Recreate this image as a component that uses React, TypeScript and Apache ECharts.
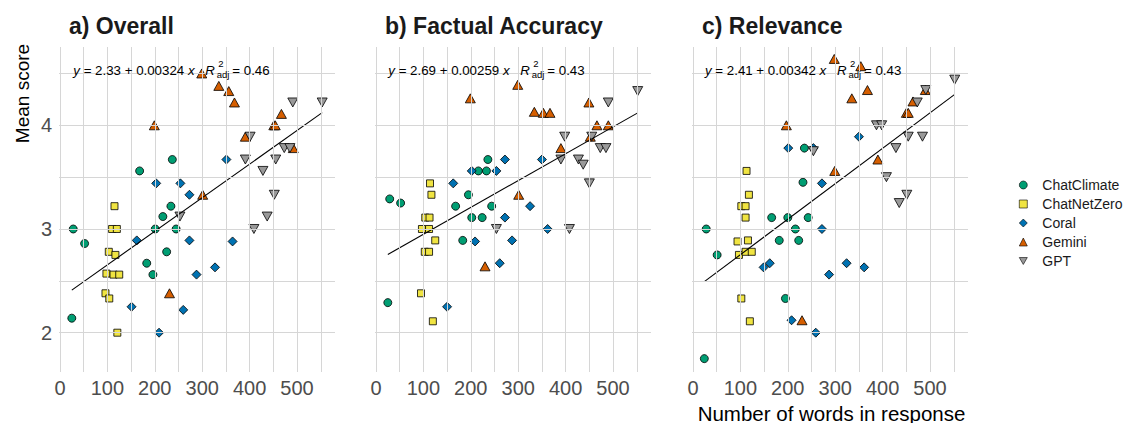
import React, { useEffect, useRef } from "react";
import * as echarts from "echarts";

// ---------- data ----------
const modelNames = ["ChatClimate", "ChatNetZero", "Coral", "Gemini", "GPT"];
const modelColors = ["#009E73", "#F0E442", "#0072B2", "#D55E00", "#999999"];
const panelTitles = ["a) Overall", "b) Factual Accuracy", "c) Relevance"];

// [number of words, mean score]
const overallChatClimate = [[25, 2.14], [28, 3.0], [52, 2.86], [168, 3.56], [183, 2.67], [196, 2.56], [201, 3.0], [217, 3.12], [225, 2.78], [234, 3.22], [237, 3.67], [245, 3.0]];
const overallChatNetZero = [[96, 2.38], [98, 2.57], [103, 2.78], [104, 2.33], [110, 3.0], [113, 2.56], [115, 3.22], [117, 2.75], [120, 3.0], [121, 2.0], [125, 2.56]];
const overallCoral = [[151, 2.25], [162, 2.89], [203, 3.44], [209, 2.0], [254, 3.44], [260, 2.22], [273, 3.33], [273, 2.89], [288, 2.56], [327, 2.63], [351, 3.67], [364, 2.88]];
const overallGemini = [[199, 4.0], [231, 2.38], [299, 4.5], [301, 3.33], [335, 4.38], [356, 4.33], [368, 4.22], [391, 3.89], [451, 4.0], [454, 4.0], [467, 4.11], [492, 3.78]];
const overallGPT = [[253, 3.12], [391, 3.67], [401, 3.89], [409, 3.0], [428, 3.56], [437, 3.12], [452, 3.33], [455, 3.67], [473, 3.78], [485, 3.78], [491, 4.22], [553, 4.22]];

const factualChatClimate = [[25, 2.29], [29, 3.29], [52, 3.25], [168, 3.22], [183, 2.89], [195, 3.33], [202, 3.11], [216, 3.56], [224, 3.11], [233, 3.56], [236, 3.67], [244, 3.22]];
const factualChatNetZero = [[95, 2.38], [97, 3.0], [103, 2.78], [104, 3.11], [112, 2.78], [112, 3.0], [113, 3.11], [114, 3.44], [117, 3.33], [120, 2.11], [125, 2.89]];
const factualCoral = [[150, 2.25], [163, 3.44], [202, 3.56], [209, 2.88], [254, 3.56], [261, 2.67], [272, 3.67], [272, 3.11], [287, 2.89], [325, 3.22], [350, 3.67], [362, 3.0]];
const factualGemini = [[199, 4.26], [230, 2.64], [299, 4.39], [301, 3.33], [334, 4.13], [353, 4.12], [367, 4.12], [390, 3.78], [449, 4.22], [452, 3.89], [466, 4.0], [490, 4.0]];
const factualGPT = [[254, 3.0], [390, 3.67], [398, 3.89], [408, 3.0], [427, 3.67], [437, 3.62], [450, 3.44], [455, 3.89], [473, 3.78], [485, 3.78], [490, 4.22], [552, 4.33]];

const relevanceChatClimate = [[24, 1.75], [28, 3.0], [51, 2.75], [166, 3.11], [182, 2.89], [195, 2.33], [200, 3.11], [216, 3.0], [223, 2.89], [232, 3.45], [235, 3.78], [243, 3.11]];
const relevanceChatNetZero = [[94, 2.88], [97, 2.75], [102, 3.22], [102, 2.33], [111, 3.22], [111, 3.11], [111, 2.78], [113, 3.56], [116, 2.89], [118, 3.33], [120, 2.11], [124, 2.78]];
const relevanceCoral = [[149, 2.63], [162, 2.67], [201, 3.78], [208, 2.12], [254, 3.78], [259, 2.0], [272, 3.44], [272, 3.0], [287, 2.56], [324, 2.67], [350, 3.89], [361, 2.63]];
const relevanceGemini = [[197, 4.0], [230, 2.12], [298, 4.64], [299, 3.56], [335, 4.26], [354, 4.57], [368, 4.34], [390, 3.67], [450, 4.12], [454, 4.12], [464, 4.23], [490, 4.34]];
const relevanceGPT = [[254, 3.75], [387, 4.0], [398, 4.0], [408, 3.5], [428, 3.78], [435, 3.25], [451, 3.33], [454, 3.89], [473, 4.22], [484, 3.89], [491, 4.34], [552, 4.44]];

const panelData = [
  [overallChatClimate, overallChatNetZero, overallCoral, overallGemini, overallGPT],
  [factualChatClimate, factualChatNetZero, factualCoral, factualGemini, factualGPT],
  [relevanceChatClimate, relevanceChatNetZero, relevanceCoral, relevanceGemini, relevanceGPT],
];

const fitIntercepts = [2.33, 2.69, 2.41];
const fitSlopes = [0.00324, 0.00259, 0.00342];
const fitInterceptLabels = ["2.33", "2.69", "2.41"];
const fitSlopeLabels = ["0.00324", "0.00259", "0.00342"];
const fitR2Labels = ["0.46", "0.43", "0.43"];
const fitXStart = [25, 25, 24];
const fitXEnd = [553, 552, 552];

const xTickLabels = [0, 100, 200, 300, 400, 500];
const yTickLabels = [2, 3, 4];
const xGridValues = [0, 50, 100, 150, 200, 250, 300, 350, 400, 450, 500, 550];
const yGridValues = [2, 2.5, 3, 3.5, 4, 4.5];

// ---------- layout ----------
const FONT = '"Liberation Sans", Arial, Helvetica, sans-serif';
const gridLefts = [59, 375, 692];
const gridWidth = 276;
const gridTop = 47;
const gridHeight = 325;
const annStart = [73.3, 388.3, 705];

const symbols = [
  "circle",
  "rect",
  "diamond",
  "triangle",
  "path://M0,0L10,0L5,8.66Z",
];
const symbolSizes: any[] = [8, 7, 9, [10, 9], [10, 9]];

export default function App() {
  const ref = useRef<HTMLDivElement>(null);

  useEffect(() => {
    if (!ref.current) return;
    const chart = echarts.init(ref.current, undefined, { renderer: "svg" });

    const grids = gridLefts.map((l) => ({
      left: l,
      top: gridTop,
      width: gridWidth,
      height: gridHeight,
      containLabel: false,
    }));

    const xAxes = gridLefts.map((_, i) => ({
      type: "value",
      gridIndex: i,
      min: -2,
      max: 580,
      axisLine: { show: false },
      axisTick: { show: false },
      splitLine: { show: false },
      axisLabel: {
        customValues: xTickLabels,
        fontSize: 20,
        color: "#4D4D4D",
        fontFamily: FONT,
        margin: 6,
      },
    }));

    const yAxes = gridLefts.map((_, i) => ({
      type: "value",
      gridIndex: i,
      min: 1.621,
      max: 4.755,
      axisLine: { show: false },
      axisTick: { show: false },
      splitLine: { show: false },
      axisLabel: {
        show: i === 0,
        customValues: yTickLabels,
        fontSize: 20,
        color: "#4D4D4D",
        fontFamily: FONT,
        margin: 7,
      },
    }));

    const series: any[] = [];
    panelData.forEach((groups, p) => {
      series.push({
        type: "line",
        xAxisIndex: p,
        yAxisIndex: p,
        data: [],
        silent: true,
        z: 0,
        markLine: {
          silent: true,
          symbol: ["none", "none"],
          label: { show: false },
          animation: false,
          lineStyle: { color: "#D6D6D6", width: 1, type: "solid" },
          data: [
            ...xGridValues.map((v) => ({ xAxis: v })),
            ...yGridValues.map((v) => ({ yAxis: v })),
          ],
        },
      });
      groups.forEach((pts, m) => {
        series.push({
          type: "scatter",
          name: modelNames[m],
          xAxisIndex: p,
          yAxisIndex: p,
          data: pts,
          symbol: symbols[m],
          symbolSize: symbolSizes[m],
          itemStyle: {
            color: modelColors[m],
            borderColor: "#000",
            borderWidth: 0.8,
            opacity: 1,
          },
          z: 3,
        });
      });
      series.push({
        type: "line",
        xAxisIndex: p,
        yAxisIndex: p,
        data: [
          [fitXStart[p], fitIntercepts[p] + fitSlopes[p] * fitXStart[p]],
          [fitXEnd[p], fitIntercepts[p] + fitSlopes[p] * fitXEnd[p]],
        ],
        showSymbol: false,
        symbol: "none",
        silent: true,
        lineStyle: { color: "#000", width: 1.1 },
        z: 4,
      });
    });

    const graphics: any[] = [];
    panelTitles.forEach((t, p) => {
      graphics.push({
        type: "text",
        x: gridLefts[p] + 10,
        y: 26,
        style: {
          text: t,
          fontSize: 23,
          fontWeight: "bold",
          fontFamily: FONT,
          fill: "#1A1A1A",
          align: "left",
          verticalAlign: "middle",
        },
      });
      const s = annStart[p];
      graphics.push({
        type: "text",
        x: s,
        y: 70.5,
        style: {
          text: `{i|y} = ${fitInterceptLabels[p]} + ${fitSlopeLabels[p]} {i|x}`,
          fontSize: 13.3,
          fontFamily: FONT,
          fill: "#000",
          align: "left",
          verticalAlign: "middle",
          rich: { i: { fontStyle: "italic", fontSize: 13.3, fontFamily: FONT, fill: "#000" } },
        },
        z: 10,
      });
      graphics.push({
        type: "text",
        x: s + 132,
        y: 70.5,
        style: { text: "R", fontSize: 13.3, fontStyle: "italic", fontFamily: FONT, fill: "#000", align: "left", verticalAlign: "middle" },
        z: 10,
      });
      graphics.push({
        type: "text",
        x: s + 145,
        y: 63,
        style: { text: "2", fontSize: 9.5, fontFamily: FONT, fill: "#000", align: "left", verticalAlign: "middle" },
        z: 10,
      });
      graphics.push({
        type: "text",
        x: s + 143.5,
        y: 74,
        style: { text: "adj", fontSize: 9.5, fontFamily: FONT, fill: "#000", align: "left", verticalAlign: "middle" },
        z: 10,
      });
      graphics.push({
        type: "text",
        x: s + 159,
        y: 70.5,
        style: { text: `= ${fitR2Labels[p]}`, fontSize: 13.3, fontFamily: FONT, fill: "#000", align: "left", verticalAlign: "middle" },
        z: 10,
      });
    });
    graphics.push({
      type: "text",
      x: 22,
      y: 93.5,
      rotation: Math.PI / 2,
      style: { text: "Mean score", fontSize: 19, fontFamily: FONT, fill: "#000", align: "center", verticalAlign: "middle" },
    });
    graphics.push({
      type: "text",
      x: 831.5,
      y: 413,
      style: { text: "Number of words in response", fontSize: 20.5, fontFamily: FONT, fill: "#000", align: "center", verticalAlign: "middle" },
    });

    chart.setOption({
      animation: false,
      backgroundColor: "#FFFFFF",
      grid: grids,
      xAxis: xAxes,
      yAxis: yAxes,
      legend: {
        data: modelNames.map((n, i) => ({
          name: n,
          icon: symbols[i],
          itemStyle: { color: modelColors[i], borderColor: "#000", borderWidth: 0.6 },
        })),
        orient: "vertical",
        left: 1014,
        top: 173,
        itemWidth: 8,
        itemHeight: 8,
        itemGap: 5,
        textStyle: { fontSize: 14, fontFamily: FONT, color: "#1A1A1A", padding: [0, 0, 0, 10] },
        selectedMode: false,
      },
      series,
      graphic: graphics,
    });

    return () => chart.dispose();
  }, []);

  return <div ref={ref} style={{ width: 1126, height: 423, position: "absolute", left: 0, top: 0 }} />;
}
